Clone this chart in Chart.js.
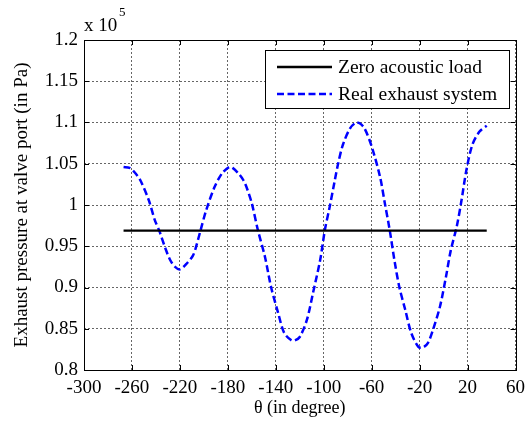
<!DOCTYPE html>
<html>
<head>
<meta charset="utf-8">
<script src="https://cdn.jsdelivr.net/npm/chart.js@4/dist/chart.umd.min.js"></script>
<style>
  body { margin: 0; background: #fff; }
  canvas { display: block; }
</style>
</head>
<body>
<canvas id="chart" width="532" height="426"></canvas>
<script>
// axis ticks
const xTicks = [-300, -260, -220, -180, -140, -100, -60, -20, 20, 60];
const xTickLabels = ['-300', '-260', '-220', '-180', '-140', '-100', '-60', '-20', '20', '60'];
const yTicks = [0.8, 0.85, 0.9, 0.95, 1, 1.05, 1.1, 1.15, 1.2];
const yTickLabels = ['0.8', '0.85', '0.9', '0.95', '1', '1.05', '1.1', '1.15', '1.2'];

// zero acoustic load (x 10^5 Pa)
const zeroTheta = [-267, 36];
const zeroPressure = [0.969, 0.969];

// real exhaust system (x 10^5 Pa)
const realTheta = [
    -267, -262, -258, -253, -246, -241, -237, -232, -228, -224, -220, -215, -209, -206,
    -203, -198, -191, -185, -179, -176, -171, -167, -164, -160, -155, -149, -144, -138,
    -133, -127, -124, -120, -114, -109, -103, -99, -95, -91, -88, -84, -78, -73, -70,
    -66, -60, -53, -49, -45, -41, -37, -32, -27, -21, -17, -13, -9, -3, 2, 6, 11, 15,
    19, 24, 30, 36
];
const realPressure = [
    1.046, 1.045, 1.040, 1.030, 1.006, 0.982, 0.968, 0.947, 0.933, 0.925, 0.922, 0.928, 0.939, 0.952,
    0.968, 0.994, 1.022, 1.038, 1.046, 1.045, 1.038, 1.030, 1.020, 1.002, 0.970, 0.937, 0.901, 0.869,
    0.845, 0.836, 0.836, 0.840, 0.861, 0.893, 0.933, 0.970, 0.998, 1.028, 1.050, 1.073, 1.093, 1.100, 1.099,
    1.093, 1.071, 1.034, 1.002, 0.970, 0.933, 0.901, 0.873, 0.845, 0.828, 0.8275, 0.833, 0.848, 0.877, 0.913, 0.945, 0.974, 1.006,
    1.042, 1.073, 1.089, 1.096
];

const seriesNames = ['Zero acoustic load', 'Real exhaust system'];

const serif = 'Liberation Serif';

function toPoints(xs, ys) {
    return xs.map((x, i) => ({ x: x, y: ys[i] }));
}

// matlab style box, inward ticks, legend and exponent label
const matlabFrame = {
    id: 'matlabFrame',
    afterDraw(chart) {
        const ctx = chart.ctx;
        const a = chart.chartArea;
        const xs = chart.scales.x, ys = chart.scales.y;
        const tick = 5;
        ctx.save();
        ctx.strokeStyle = '#000';
        ctx.lineWidth = 1;
        ctx.setLineDash([]);
        ctx.beginPath();
        xTicks.forEach(v => {
            const px = Math.round(xs.getPixelForValue(v)) + 0.5;
            ctx.moveTo(px, a.bottom); ctx.lineTo(px, a.bottom - tick);
            ctx.moveTo(px, a.top); ctx.lineTo(px, a.top + tick);
        });
        yTicks.forEach(v => {
            const py = Math.round(ys.getPixelForValue(v)) + 0.5;
            ctx.moveTo(a.left, py); ctx.lineTo(a.left + tick, py);
            ctx.moveTo(a.right, py); ctx.lineTo(a.right - tick, py);
        });
        ctx.stroke();
        ctx.strokeRect(Math.round(a.left) + 0.5, Math.round(a.top) + 0.5,
            Math.round(a.right - a.left), Math.round(a.bottom - a.top));

        // legend
        const lx = 265, ly = 50, lw = 244, lh = 58;
        ctx.fillStyle = '#fff';
        ctx.fillRect(lx, ly, lw, lh);
        ctx.strokeRect(lx + 0.5, ly + 0.5, lw, lh);
        ctx.font = '19.5px "' + serif + '"';
        ctx.textBaseline = 'middle';
        ctx.textAlign = 'left';
        chart.data.datasets.forEach((ds, i) => {
            const ry = ly + 17 + i * 27;
            ctx.strokeStyle = ds.borderColor;
            ctx.lineWidth = ds.borderWidth;
            ctx.setLineDash(ds.borderDash || []);
            ctx.beginPath();
            ctx.moveTo(lx + 12, ry);
            ctx.lineTo(lx + 67, ry);
            ctx.stroke();
            ctx.fillStyle = '#000';
            ctx.fillText(ds.label, lx + 73, ry + 1);
        });
        ctx.setLineDash([]);

        // exponent
        ctx.fillStyle = '#000';
        ctx.font = '19px "' + serif + '"';
        ctx.fillText('x 10', a.left, 26);
        ctx.font = '13px "' + serif + '"';
        ctx.fillText('5', a.left + 35, 13);
        ctx.restore();
    }
};

new Chart(document.getElementById('chart'), {
    type: 'line',
    data: {
        datasets: [{
            label: seriesNames[0],
            data: toPoints(zeroTheta, zeroPressure),
            borderColor: '#000000',
            borderWidth: 2.3,
            pointRadius: 0,
            tension: 0
        }, {
            label: seriesNames[1],
            data: toPoints(realTheta, realPressure),
            borderColor: '#0000ff',
            borderWidth: 2.5,
            borderDash: [7, 3.5],
            pointRadius: 0,
            tension: 0.3
        }]
    },
    options: {
        responsive: false,
        animation: false,
        devicePixelRatio: 1,
        layout: { padding: { left: 0, right: 16, top: 40, bottom: 0 } },
        plugins: {
            legend: { display: false },
            tooltip: { enabled: false }
        },
        scales: {
            x: {
                type: 'linear',
                min: -300,
                max: 60,
                afterBuildTicks: s => { s.ticks = xTicks.map(v => ({ value: v })); },
                afterFit: s => { s.height = 56; },
                grid: { color: 'rgba(0,0,0,0.6)', lineWidth: 1, drawTicks: false },
                border: { display: false, dash: [2, 2] },
                ticks: {
                    padding: 7,
                    color: '#000',
                    font: { family: serif, size: 19 },
                    maxRotation: 0,
                    callback: (v, i) => xTickLabels[i]
                },
                title: {
                    display: true,
                    text: 'θ (in degree)',
                    color: '#000',
                    font: { family: serif, size: 18 },
                    padding: { top: 0, bottom: 7 }
                }
            },
            y: {
                type: 'linear',
                min: 0.8,
                max: 1.2,
                afterBuildTicks: s => { s.ticks = yTicks.map(v => ({ value: v })); },
                afterFit: s => { s.width = 84; },
                grid: { color: 'rgba(0,0,0,0.6)', lineWidth: 1, drawTicks: false },
                border: { display: false, dash: [2, 2] },
                ticks: {
                    padding: 6,
                    color: '#000',
                    font: { family: serif, size: 19 },
                    callback: (v, i) => yTickLabels[i]
                },
                title: {
                    display: true,
                    text: 'Exhaust pressure at valve port (in Pa)',
                    color: '#000',
                    font: { family: serif, size: 19 },
                    padding: { top: 11, bottom: 0 }
                }
            }
        }
    },
    plugins: [matlabFrame]
});
</script>
</body>
</html>
